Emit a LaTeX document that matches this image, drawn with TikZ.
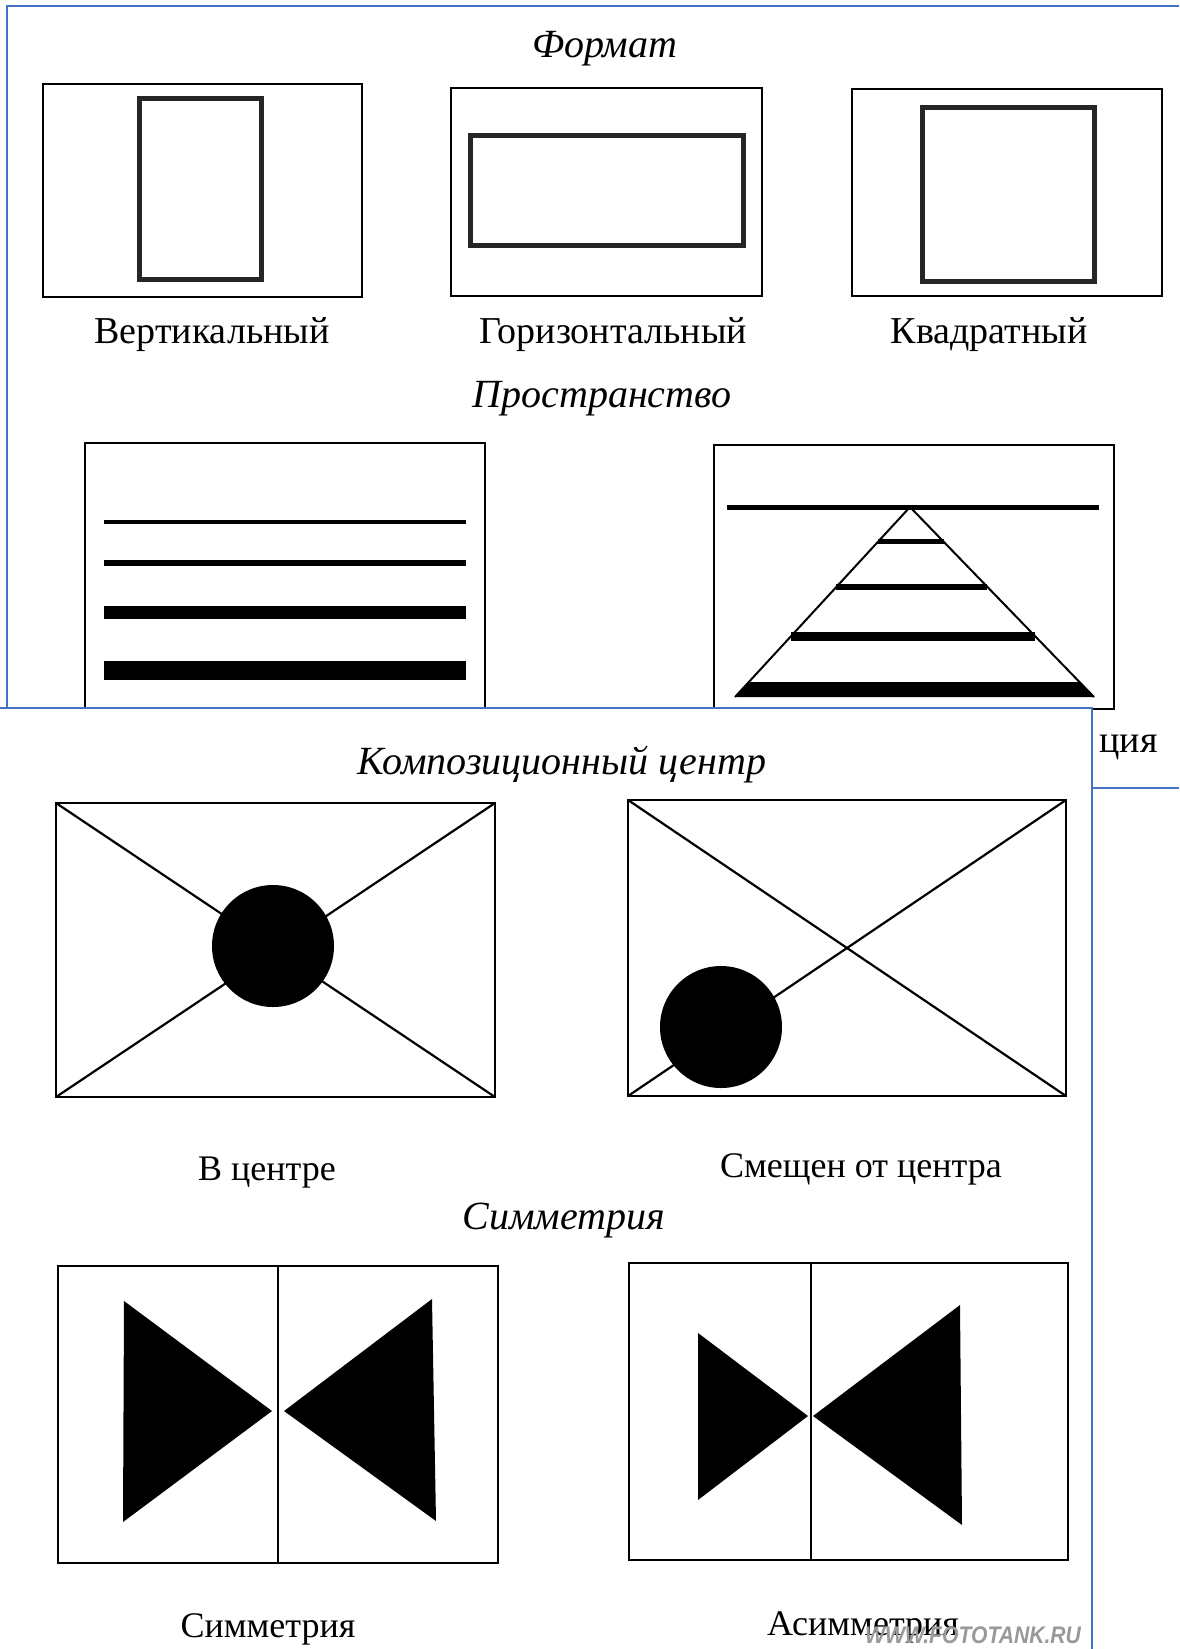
\documentclass[tikz,border=0pt]{standalone}
\usepackage{fontspec}
\setmainfont{Liberation Serif}
\newfontfamily\wmfont{Liberation Sans}
\usetikzlibrary{calc}
\definecolor{frameblue}{RGB}{68,114,196}
\begin{document}
\begin{tikzpicture}[x=1pt,y=-1pt,
  box/.style={draw=black, line width=2pt},
  innerbox/.style={draw=black!85, line width=5pt},
  diag/.style={draw=black, line width=2.2pt},
  ttl/.style={font=\fontsize{40}{44}\selectfont\itshape, anchor=base, inner sep=0pt},
  lbl/.style={font=\fontsize{38}{42}\selectfont, anchor=base, inner sep=0pt},
  blbl/.style={font=\fontsize{36}{40}\selectfont, anchor=base, inner sep=0pt},
  blueline/.style={draw=frameblue, line width=2pt}]
\useasboundingbox (0,0) rectangle (1179,1649);
\fill[white] (0,0) rectangle (1179,1649);

% ---------- top panel ----------
\draw[blueline] (1179,6) -- (7,6) -- (7,708);
\draw[blueline] (1092,788) -- (1179,788);

\node[ttl] (tformat) at (605,57) {Формат};
\draw[box] (43,84) rectangle (362,297);
\draw[innerbox] (139,98) rectangle (261,279);
\draw[box] (451,88) rectangle (762,296);
\draw[innerbox] (470,135) rectangle (743,245);
\draw[box] (852,89) rectangle (1162,296);
\draw[innerbox] (922,107) rectangle (1094,281);
\node[lbl] (lvert) at (212,343) {Вертикальный};
\node[lbl] (lhor) at (613,343) {Горизонтальный};
\node[lbl] (lsq) at (989,343) {Квадратный};

\node[ttl] (tspace) at (602,407) {Пространство};
\draw[box] (85,443) rectangle (485,709);
\draw[line width=4pt] (104,522) -- (466,522);
\draw[line width=6pt] (104,563) -- (466,563);
\draw[line width=13pt] (104,612) -- (466,612);
\draw[line width=19pt] (104,670) -- (466,670);

\draw[box] (714,445) rectangle (1114,709);
\draw[line width=5pt] (727,507) -- (1099,507);
\coordinate (apex) at (910,507);
\coordinate (bl) at (735,697);
\coordinate (br) at (1094,697);
\draw[line width=2pt] (bl) -- (apex) -- (br);
\draw[line width=5pt] ($(apex)!0.184!(bl)$) -- ($(apex)!0.184!(br)$);
\draw[line width=6pt] ($(apex)!0.421!(bl)$) -- ($(apex)!0.421!(br)$);
\draw[line width=9pt] ($(apex)!0.679!(bl)$) -- ($(apex)!0.679!(br)$);
\fill ($(apex)!0.921!(bl)$) -- ($(apex)!0.921!(br)$) -- (br) -- (bl) -- cycle;

\node[lbl, anchor=base east] (lcut) at (1158,752) {ция};

% ---------- overlay panel ----------
\fill[white] (0,708) rectangle (1092,1649);
\draw[blueline] (0,708) -- (1092,708) -- (1092,1649);

\node[ttl] (tcomp) at (562,774) {Композиционный центр};
\draw[box] (56,803) rectangle (495,1097);
\draw[diag] (56,803) -- (495,1097);
\draw[diag] (495,803) -- (56,1097);
\fill (273,946) circle[radius=61pt];
\draw[box] (628,800) rectangle (1066,1096);
\draw[diag] (628,800) -- (1066,1096);
\draw[diag] (1066,800) -- (628,1096);
\fill (721,1027) circle[radius=61pt];
\node[blbl] (lcenter) at (267,1180) {В центре};
\node[blbl] (loff) at (861,1177) {Смещен от центра};

\node[ttl] (tsym) at (564,1229) {Симметрия};
\draw[box] (58,1266) rectangle (498,1563);
\draw[line width=1.5pt] (278,1266) -- (278,1563);
\fill (124,1301) -- (123,1522) -- (272,1411) -- cycle;
\fill (432,1299) -- (436,1521) -- (284,1411) -- cycle;
\draw[box] (629,1263) rectangle (1068,1560);
\draw[line width=1.5pt] (811,1263) -- (811,1560);
\fill (698,1333) -- (698,1500) -- (808,1416) -- cycle;
\fill (960,1305) -- (962,1525) -- (813,1416) -- cycle;
\node[blbl] (lsym) at (268,1637) {Симметрия};
\node[blbl] (lasym) at (863,1635) {Асимметрия};
\node[anchor=base, inner sep=0pt, text=black!40, font={\wmfont\fontsize{24}{26}\selectfont\bfseries\itshape}] (wm) at (973,1643) {\scalebox{0.88}[1]{WWW.FOTOTANK.RU}};
\end{tikzpicture}
\end{document}
